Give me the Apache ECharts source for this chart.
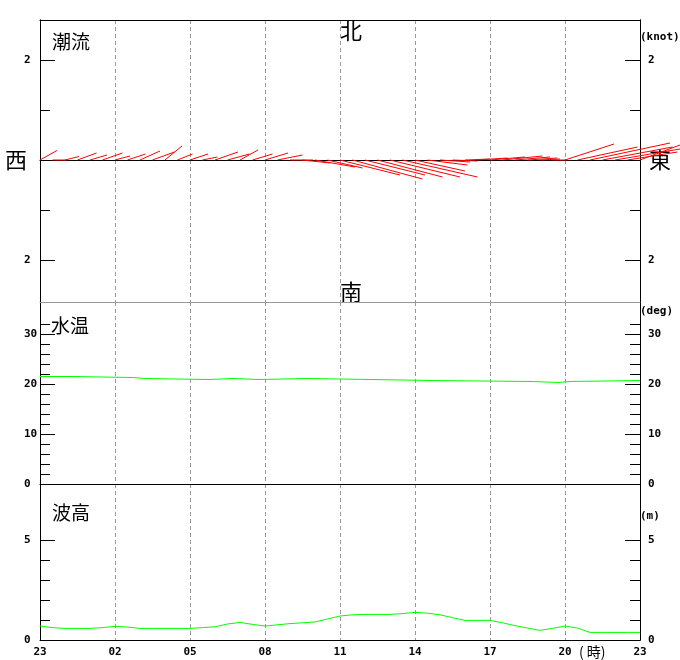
<!DOCTYPE html>
<html><head><meta charset="utf-8">
<script src="https://cdn.jsdelivr.net/npm/echarts@6/dist/echarts.min.js"></script>
<style>html,body{margin:0;padding:0;background:#fff}#c{width:680px;height:660px}</style>
</head><body><div id="c"></div>
<script>
// hour labels of the x axis (every 3 hours, from 23:00 to 23:00)
const hourLabels = ['23','02','05','08','11','14','17','20','23'];

// tidal current sticks: time (h after 23:00), east and north components (knot)
const stickTimes = [0,0.5,1,1.5,2,2.5,3,3.5,4,4.5,5,5.5,6,6.5,7,7.5,8,8.5,9,9.5,10,10.5,11,11.5,12,12.5,13,13.5,14,14.5,15,15.5,16,16.5,17,17.5,18,18.5,19,19.5,20,20.5,21,21.5,22,22.5,23,23.5,24];
const stickEast  = [0.34,0.30,0.28,0.38,0.34,0.40,0.30,0.36,0.40,0.44,0.34,0.30,0.36,0.30,0.46,0.44,0.36,0.40,0.46,0.50,0.46,0.55,0.80,0.70,1.20,1.40,1.20,1.30,1.40,1.50,1.00,0.80,0.60,0.50,0.50,0.60,0.70,0.80,0.70,0.60,0.40,0.30,0.98,1.20,1.60,1.40,1.30,1.00,0.80];
const stickNorth = [0.19,0.00,0.07,0.14,0.10,0.14,0.08,0.12,0.18,0.16,0.28,0.12,0.12,0.06,0.16,0.12,0.20,0.12,0.14,0.10,0.00,-0.06,-0.14,-0.16,-0.30,-0.38,-0.30,-0.34,-0.34,-0.34,-0.22,-0.10,-0.04,-0.02,0.02,0.04,0.06,0.08,0.06,0.04,0.02,0.00,0.32,0.26,0.34,0.26,0.22,0.16,0.30];

// water temperature (deg)
const tempTimes  = [0,1.24,1.28,3.73,3.77,4.2,4.24,6.76,6.8,7.73,7.77,8.76,8.8,10.73,10.77,13.23,13.27,15.73,15.77,19.73,19.77,20.73,20.77,21.2,21.24,24];
const tempValues = [21.5,21.5,21.3,21.3,21.1,21.1,20.9,20.9,21.1,21.1,20.9,20.9,21.1,21.1,20.9,20.9,20.7,20.7,20.5,20.5,20.3,20.3,20.5,20.5,20.7,20.7];

// wave height (m)
const waveTimes  = [0,0.5,1,1.5,2,2.5,3,3.5,4,4.5,5,5.5,6,6.5,7,7.5,8,8.5,9,9.5,10,10.5,11,11.5,12,12.5,13,13.5,14,14.5,15,15.5,16,16.5,17,17.5,18,18.5,19,19.5,20,20.5,21,21.5,22,22.5,23,23.5,24];
const waveValues = [0.70,0.62,0.58,0.58,0.58,0.62,0.68,0.65,0.58,0.58,0.58,0.58,0.58,0.62,0.66,0.80,0.88,0.78,0.70,0.76,0.82,0.86,0.90,1.05,1.20,1.26,1.28,1.28,1.28,1.32,1.38,1.34,1.26,1.12,0.98,0.98,0.98,0.86,0.72,0.60,0.48,0.58,0.70,0.60,0.38,0.38,0.38,0.38,0.38];

// tick values per panel
const curMajor = [-2, 2], curMinor = [-1, 1];
const tempMajor = [0, 10, 20, 30], tempMinor = [2,4,6,8,12,14,16,18,22,24,26,28,32];
const waveMajor = [0, 5], waveMinor = [1, 2, 3, 4];

const chart = echarts.init(document.getElementById('c'), null, {renderer: 'canvas'});
const labFont = {fontFamily: 'DejaVu Sans Mono', fontWeight: 'bold', fontSize: 11, color: '#000'};
const black = {color: '#000', width: 1};

function xAx(grid, extra) {
  return Object.assign({
    gridIndex: grid, type: 'value', min: 0, max: 24, interval: 3,
    axisLine: {show: true, onZero: false, lineStyle: black},
    axisTick: {show: false}, axisLabel: {show: false},
    splitLine: {show: false}
  }, extra || {});
}
const vSplit = {show: true, showMinLine: false, showMaxLine: false, lineStyle: {color: '#999', width: 1, type: [4, 3]}};

function yAx(grid, pos, min, max, ticks, len, labels, fmt) {
  return {
    gridIndex: grid, type: 'value', min: min, max: max, position: pos,
    axisLine: {show: true, onZero: false, lineStyle: black},
    axisTick: {show: true, inside: true, length: len, customValues: ticks, lineStyle: black},
    axisLabel: labels ? Object.assign({show: true, customValues: labels, align: 'left',
      margin: pos === 'left' ? 16 : 8, formatter: fmt || (v => String(v))}, labFont) : {show: false},
    splitLine: {show: false}
  };
}

const absFmt = v => String(Math.abs(v));

const option = {
  animation: false,
  backgroundColor: '#fff',
  grid: [
    {left: 40, right: 40, top: 20, height: 282, outerBoundsMode: 'none', containLabel: false},
    {left: 40, right: 40, top: 302, height: 182, outerBoundsMode: 'none', containLabel: false},
    {left: 40, right: 40, top: 484, height: 156, outerBoundsMode: 'none', containLabel: false}
  ],
  xAxis: [
    xAx(0, {axisLine: {show: true, onZero: true, lineStyle: black}, splitLine: vSplit}),
    xAx(0, {position: 'top'}),
    xAx(0, {position: 'bottom', axisLine: {show: true, onZero: false, lineStyle: {color: '#999', width: 1}}}),
    xAx(1, {position: 'bottom', splitLine: vSplit}),
    xAx(2, {position: 'bottom', splitLine: vSplit,
      axisLabel: Object.assign({show: true, margin: 7, showMinLabel: true, showMaxLabel: true,
        formatter: v => hourLabels[Math.round(v / 3)]}, labFont)})
  ],
  yAxis: [
    yAx(0, 'left', -2.84, 2.8, curMajor, 15, curMajor, absFmt),
    yAx(0, 'left', -2.84, 2.8, curMinor, 10, null),
    yAx(0, 'right', -2.84, 2.8, curMajor, 15, curMajor, absFmt),
    yAx(0, 'right', -2.84, 2.8, curMinor, 10, null),
    yAx(1, 'left', 0, 36.4, tempMajor, 15, tempMajor),
    yAx(1, 'left', 0, 36.4, tempMinor, 10, null),
    yAx(1, 'right', 0, 36.4, tempMajor, 15, tempMajor),
    yAx(1, 'right', 0, 36.4, tempMinor, 10, null),
    yAx(2, 'left', 0, 7.8, waveMajor, 15, waveMajor),
    yAx(2, 'left', 0, 7.8, waveMinor, 10, null),
    yAx(2, 'right', 0, 7.8, waveMajor, 15, waveMajor),
    yAx(2, 'right', 0, 7.8, waveMinor, 10, null)
  ],
  series: [
    {
      type: 'custom', xAxisIndex: 0, yAxisIndex: 0, clip: false, silent: true, z: 5,
      data: stickTimes.map((t, i) => [t, stickEast[i], stickNorth[i]]),
      encode: {x: 0, y: 2},
      renderItem: function (params, api) {
        const t = api.value(0), e = api.value(1), n = api.value(2);
        const p0 = api.coord([t, 0]);
        const unit = api.size([0, 1])[1];
        return {type: 'line', shape: {x1: p0[0], y1: p0[1], x2: p0[0] + e * unit, y2: p0[1] - n * unit},
          style: {stroke: '#ff0000', lineWidth: 1}};
      }
    },
    {
      type: 'line', xAxisIndex: 3, yAxisIndex: 4, showSymbol: false, silent: true,
      data: tempTimes.map((t, i) => [t, tempValues[i]]),
      lineStyle: {color: '#00ff00', width: 1}
    },
    {
      type: 'line', xAxisIndex: 4, yAxisIndex: 8, showSymbol: false, silent: true,
      data: waveTimes.map((t, i) => [t, waveValues[i]]),
      lineStyle: {color: '#00ff00', width: 1}
    }
  ],
  graphic: [
    {type: 'text', x: 52, y: 42, style: {text: '潮流', font: '19px "Noto Sans CJK JP"', fill: '#000', verticalAlign: 'middle'}},
    {type: 'text', x: 51, y: 326, style: {text: '水温', font: '19px "Noto Sans CJK JP"', fill: '#000', verticalAlign: 'middle'}},
    {type: 'text', x: 52, y: 513, style: {text: '波高', font: '19px "Noto Sans CJK JP"', fill: '#000', verticalAlign: 'middle'}},
    {type: 'text', x: 351, y: 31, style: {text: '北', font: '22px "Noto Sans CJK JP"', fill: '#000', align: 'center', verticalAlign: 'middle'}},
    {type: 'text', x: 351, y: 292, style: {text: '南', font: '22px "Noto Sans CJK JP"', fill: '#000', align: 'center', verticalAlign: 'middle'}},
    {type: 'text', x: 16, y: 160, style: {text: '西', font: '22px "Noto Sans CJK JP"', fill: '#000', align: 'center', verticalAlign: 'middle'}},
    {type: 'text', x: 660, y: 160, style: {text: '東', font: '22px "Noto Sans CJK JP"', fill: '#000', align: 'center', verticalAlign: 'middle'}},
    {type: 'text', x: 640, y: 37, style: {text: '(knot)', font: 'bold 11px "DejaVu Sans Mono"', fill: '#000', verticalAlign: 'middle'}},
    {type: 'text', x: 640, y: 311, style: {text: '(deg)', font: 'bold 11px "DejaVu Sans Mono"', fill: '#000', verticalAlign: 'middle'}},
    {type: 'text', x: 640, y: 516, style: {text: '(m)', font: 'bold 11px "DejaVu Sans Mono"', fill: '#000', verticalAlign: 'middle'}},
    {type: 'text', x: 579, y: 652, style: {text: '( 時)', font: '14px "Noto Sans CJK JP"', fill: '#000', verticalAlign: 'middle'}}
  ]
};
chart.setOption(option);
</script>
</body></html>
